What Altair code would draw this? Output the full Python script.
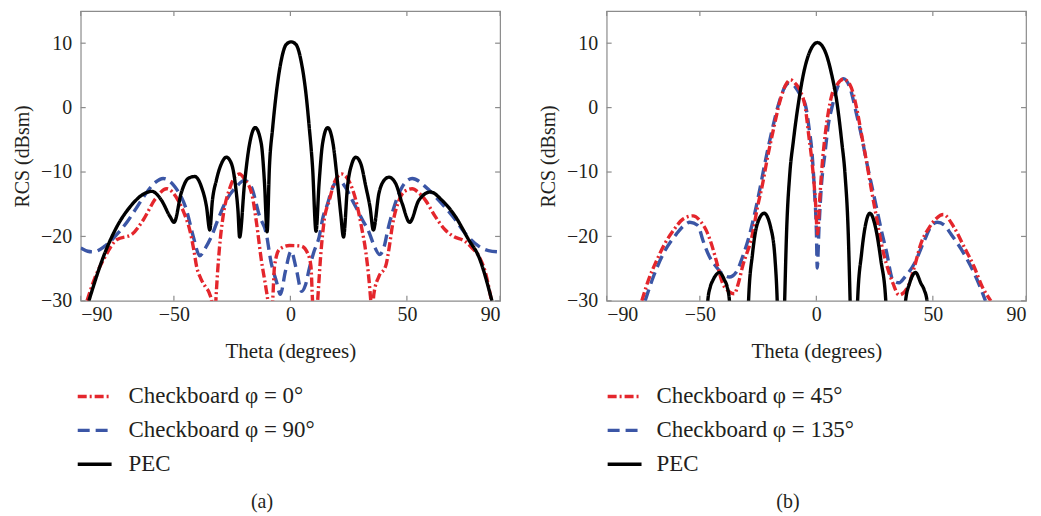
import altair as alt
import pandas as pd

FONT = "Liberation Serif"
TXT = "#231f20"
RED = "#e4262c"
BLUE = "#3b56a6"
BLACK = "#000000"
FRAME = "#8c8c8c"

X_TICKS = [-90, -50, 0, 50, 90]
Y_TICKS = [-30, -20, -10, 0, 10]

# ---------------- panel (a) ----------------
A_LABELS = ["Checkboard φ = 0°", "Checkboard φ = 90°", "PEC"]

A_PEC_THETA = [-86.5, -80.2, -74.5, -68.8, -63.8, -59.5, -55.3, -51.7, -49.9,
               -46.9, -43.9, -41.0, -38.2, -36.0, -34.6, -33.5, -31.8, -29.6,
               -27.5, -25.3, -23.5, -22.5, -21.8, -19.7, -17.5, -15.1, -12.5,
               -11.1, -10.0, -9.0, -7.6, -6.1, -4.0, -1.8, 0.3, 2.4, 4.6, 6.7,
               8.1, 9.5, 11.0, 12.3, 13.8, 16.0, 18.3, 20.2, 21.6, 22.8, 24.5,
               26.4, 28.1, 30.2, 32.4, 34.2, 35.6, 38.0, 40.2, 42.3, 45.2, 48.0,
               51.2, 55.1, 60.1, 65.1, 70.8, 76.5, 80.8, 86.5]
A_PEC_RCS = [-30.0, -23.1, -18.5, -15.4, -13.6, -13.0, -14.4, -16.9, -17.8,
             -13.3, -11.0, -10.7, -12.3, -15.4, -19.0, -14.5, -11.3, -8.7,
             -7.7, -8.7, -12.3, -16.0, -20.1, -11.8, -5.6, -3.1, -5.6,
             -11.8, -19.3, -9.2, -3.1, 2.1, 7.2, 9.8, 10.2, 9.8, 7.2, 2.1,
             -3.1, -9.2, -19.2, -11.8, -5.6, -3.1, -5.6, -11.5, -16.5, -20.1, -12.3,
             -8.7, -7.7, -8.7, -12.3, -15.5, -19.0, -13.3, -11.3, -10.8, -11.8, -14.9,
             -17.8, -14.4, -13.1, -14.4, -16.9, -20.5, -23.1, -30.0]

A_RED_THETA = [-87.3, -84.0, -80.2, -74.5, -68.1, -63.1, -58.0, -53.1, -48.2,
               -45.5, -43.2, -41.5, -40.3, -38.5, -36.5, -34.8, -33.6, -32.8,
               -32.0, -30.5, -28.9, -26.0, -23.5, -21.8, -19.5, -16.5, -14.5,
               -12.5, -10.5, -9.7, -8.6, -7.6, -6.8, -4.7, -0.4, 4.6, 7.4, 8.8,
               9.5, 10.6, 11.7, 13.0, 14.5, 16.7, 19.0, 22.0, 25.0, 28.1, 30.5,
               32.4, 33.8, 34.5, 35.1, 35.8, 38.0, 40.9, 42.5, 43.7, 46.6, 49.0,
               52.3, 55.0, 58.0, 62.0, 66.5, 70.0, 75.1, 78.0, 80.8, 84.0, 86.3]
A_RED_RCS = [-30.0, -26.5, -23.6, -20.5, -19.7, -17.4, -14.2, -12.6, -14.4,
             -16.5, -19.0, -22.0, -24.6, -26.5, -27.8, -28.8, -30.5, -36.0,
             -30.0, -22.0, -16.9, -12.5, -10.6, -10.3, -11.2, -13.5, -18.0,
             -23.6, -28.0, -30.0, -36.0, -30.0, -24.6, -22.0, -21.4, -21.5, -22.6, -24.6,
             -30.0, -36.0, -30.0, -23.0, -17.5, -14.4, -11.5, -10.3, -11.3, -14.4, -18.5,
             -22.5, -27.0, -30.0, -33.0, -29.0, -26.2, -24.6, -21.5, -18.5, -14.4, -13.0,
             -12.6, -13.2, -14.4, -16.8, -19.0, -20.0, -20.8, -21.8, -23.0, -26.0, -30.0]

A_BLUE_THETA = [-90.0, -87.0, -84.5, -80.0, -77.4, -74.0, -70.2, -66.5, -63.1,
                -58.0, -54.6, -49.6, -44.6, -41.7, -38.9, -36.5, -33.9, -31.1,
                -27.5, -23.2, -19.7, -16.8, -13.2, -10.4, -8.3, -6.0, -4.3, -2.2,
                0.3, 2.6, 4.8, 6.5, 8.1, 10.0, 12.4, 14.0, 15.9, 18.0, 20.9, 23.5,
                26.6, 30.9, 33.8, 36.0, 38.3, 40.3, 41.8, 43.7, 48.0, 52.3, 58.0,
                63.7, 70.8, 75.0, 80.8, 85.0, 90.0]
A_BLUE_RCS = [-21.8, -22.3, -22.4, -21.6, -20.8, -19.5, -17.8, -15.8, -13.9,
              -11.6, -11.0, -12.3, -15.9, -20.0, -23.0, -21.8, -20.0, -17.4,
              -14.4, -12.3, -11.3, -12.3, -16.9, -19.5, -24.0, -27.0, -29.0, -25.5,
              -22.3, -25.2, -28.5, -27.5, -25.0, -22.5, -20.0, -17.0, -15.0, -12.5, -11.3, -12.3,
              -14.4, -17.4, -19.4, -21.5, -22.8, -21.5, -19.0, -16.4, -12.3, -11.0, -12.3,
              -14.4, -17.4, -19.5, -21.5, -22.2, -22.4]

# ---------------- panel (b) ----------------
B_LABELS = ["Checkboard φ = 45°", "Checkboard φ = 135°", "PEC"]

B_PEC_THETA = [-48.5, -46.6, -45.5, -44.4, -41.6, -39.4, -38.3, -37.3, -36.3,
               -30.1, -29.1, -27.4, -25.3, -22.4, -19.6, -17.7, -16.8, -15.8,
               -14.6, -13.6, -12.8, -11.4, -9.9, -7.6, -5.6, -2.8, 0.5, 3.8, 6.6,
               8.8, 10.9, 12.3, 13.7, 14.5, 15.5, 16.7, 17.7, 19.4, 20.9, 23.0,
               25.4, 27.7, 29.8, 30.8, 37.3, 38.3, 40.0, 42.6, 44.9, 46.3, 47.5, 48.5]
B_PEC_RCS = [-45.0, -30.0, -27.8, -26.8, -25.6, -26.8, -27.8, -30.0, -45.0,
             -45.0, -30.0, -22.7, -18.0, -16.4, -18.6, -23.7, -30.0, -45.0,
             -45.0, -30.0, -19.6, -10.3, -5.3, 0.9, 5.1, 8.7, 10.1, 8.7, 5.1,
             0.9, -5.3, -10.3, -19.6, -30.0, -45.0, -45.0, -30.0, -22.7, -18.6, -16.4,
             -18.6, -23.7, -30.0, -45.0, -45.0, -30.0, -27.3, -25.6, -27.3, -28.3, -30.0, -45.0]

B_RED_THETA = [-74.9, -72.1, -68.5, -65.0, -61.4, -57.2, -52.9, -49.4, -47.2,
               -45.1, -43.0, -40.2, -37.3, -35.2, -33.5, -31.7, -27.4, -25.3,
               -23.1, -21.0, -18.9, -15.3, -13.2, -11.1, -8.9, -6.8, -4.7, -3.3,
               -1.9, -0.4, 0.5, 1.4, 2.4, 3.8, 5.2, 6.6, 8.8, 11.6, 14.5, 17.3,
               19.4, 21.5, 23.7, 25.8, 27.9, 30.0, 32.9, 35.5, 39.3, 42.1, 44.9,
               48.5, 51.5, 54.5, 59.1, 63.4, 67.7, 71.2, 74.9]
B_RED_RCS = [-30.0, -26.8, -23.7, -21.1, -19.1, -17.3, -16.8, -17.8, -19.1,
             -21.1, -23.7, -27.3, -28.6, -28.9, -27.3, -24.7, -19.6, -15.5,
             -11.9, -7.8, -4.2, 1.4, 3.5, 4.3, 3.7, 2.5, -0.1, -4.2,
             -8.3, -14.5, -19.6, -14.5, -9.3, -4.2, -0.6, 1.9, 3.5, 4.4, 3.5, -0.1,
             -4.2, -8.3, -12.9, -17.0, -21.1, -24.2, -27.3, -29.1, -27.8, -24.7, -21.1,
             -18.6, -17.2, -16.6, -18.6, -21.6, -24.7, -27.8, -30.0]

B_BLUE_THETA = [-73.5, -70.0, -65.7, -60.0, -56.5, -54.3, -50.8, -48.7, -45.8,
                -43.0, -40.0, -37.3, -34.5, -31.5, -28.5, -25.0, -22.0, -19.0,
                -16.0, -13.5, -11.8, -9.5, -7.0, -4.7, -3.0, -1.9, -0.8, 0.0, 0.4,
                1.1, 2.0, 3.8, 5.2, 6.6, 8.5, 9.5, 11.6, 14.5, 17.3, 19.5, 21.5,
                23.7, 25.8, 28.0, 30.0, 32.9, 35.5, 38.0, 42.1, 46.4, 49.0, 51.9,
                54.8, 57.7, 63.4, 69.1, 72.6]
B_BLUE_RCS = [-30.0, -26.3, -22.7, -19.6, -18.2, -17.8, -18.3, -20.6, -23.2,
              -24.7, -25.9, -26.3, -25.6, -23.0, -19.5, -14.0, -8.5, -3.5,
              0.8, 3.2, 3.8, 3.4, 2.0, 0.4, -3.5, -6.8, -13.0, -19.0, -24.9,
              -19.0, -13.0, -6.8, -2.5, -0.1, 2.5, 3.5, 4.5, 3.0, -1.1, -4.6, -8.3,
              -12.0, -15.5, -19.2, -22.2, -26.8, -27.2, -26.3, -24.2, -20.6, -18.6, -17.8,
              -18.2, -19.6, -22.7, -26.8, -30.0]

W, H = 421, 291


def frame_df(labels, red_t, red_r, blue_t, blue_r, pec_t, pec_r):
    rows = []
    for lab, ts, rs in [(labels[0], red_t, red_r), (labels[1], blue_t, blue_r), (labels[2], pec_t, pec_r)]:
        for t, r in zip(ts, rs):
            rows.append({"theta": t, "rcs": r, "series": lab})
    return pd.DataFrame(rows)


def panel(df, labels, caption, legend_x, label_offset):
    leg = alt.Legend(orient="none", legendX=legend_x, legendY=368, direction="vertical",
                     title=None, symbolType="stroke", symbolSize=1156, symbolStrokeWidth=3,
                     labelFont=FONT, labelFontSize=23, labelColor=TXT, labelOffset=label_offset,
                     labelLimit=400, rowPadding=3, padding=0)
    color = alt.Color("series:N", scale=alt.Scale(domain=labels, range=[RED, BLUE, BLACK]), legend=leg)
    dash = alt.StrokeDash("series:N", scale=alt.Scale(domain=labels, range=[[9, 3, 2, 3], [12, 6], [1, 0]]), legend=leg)
    sw = alt.StrokeWidth("series:N", scale=alt.Scale(domain=labels, range=[3.4, 3.4, 2.2]), legend=None)
    x = alt.X("theta:Q", scale=alt.Scale(domain=[-90, 90], nice=False, zero=False),
              axis=alt.Axis(values=X_TICKS, title="Theta (degrees)", labelPadding=4, titlePadding=16,
                            titleFontSize=21))
    y = alt.Y("rcs:Q", scale=alt.Scale(domain=[-30, 15], nice=False, zero=False),
              axis=alt.Axis(values=Y_TICKS, title="RCS (dBsm)", labelPadding=9, titlePadding=8))

    layers = []
    for s in [labels[1], labels[0], labels[2]]:
        layers.append(
            alt.Chart(df).transform_filter(alt.datum.series == s)
            .mark_line(clip=True, interpolate="monotone", strokeCap="butt")
            .encode(x=x, y=y, color=color, strokeDash=dash, strokeWidth=sw)
        )
    xt = pd.DataFrame({"theta": X_TICKS})
    yt = pd.DataFrame({"rcs": Y_TICKS})
    tick = dict(color=FRAME, strokeWidth=1.2)
    layers.append(alt.Chart(xt).mark_rule(**tick).encode(x=x, y=alt.value(0), y2=alt.value(5)))
    layers.append(alt.Chart(xt).mark_rule(**tick).encode(x=x, y=alt.value(H - 5), y2=alt.value(H)))
    layers.append(alt.Chart(yt).mark_rule(**tick).encode(y=y, x=alt.value(0), x2=alt.value(5)))
    layers.append(alt.Chart(yt).mark_rule(**tick).encode(y=y, x=alt.value(W - 5), x2=alt.value(W)))
    cap = pd.DataFrame({"cap": [caption]})
    layers.append(alt.Chart(cap).mark_text(font=FONT, fontSize=20, color=TXT)
                  .encode(text="cap:N", x=alt.value(182), y=alt.value(493)))
    return alt.layer(*layers).properties(width=W, height=H)


df_a = frame_df(A_LABELS, A_RED_THETA, A_RED_RCS, A_BLUE_THETA, A_BLUE_RCS, A_PEC_THETA, A_PEC_RCS)
df_b = frame_df(B_LABELS, B_RED_THETA, B_RED_RCS, B_BLUE_THETA, B_BLUE_RCS, B_PEC_THETA, B_PEC_RCS)

chart = (
    alt.hconcat(panel(df_a, A_LABELS, "(a)", -5, 15), panel(df_b, B_LABELS, "(b)", -1, 13), spacing=36)
    .resolve_scale(color="independent", strokeDash="independent", strokeWidth="independent")
    .properties(padding={"left": 4, "top": 0, "right": 5, "bottom": 5})
    .configure_view(stroke=FRAME, strokeWidth=1.2)
    .configure_axis(domain=False, ticks=False, grid=False, labelFont=FONT, labelFontSize=20,
                    labelColor=TXT, titleFont=FONT, titleFontSize=20, titleFontWeight="normal",
                    titleColor=TXT)
)

chart.save("out.html", embed_options={"renderer": "svg", "actions": False})
